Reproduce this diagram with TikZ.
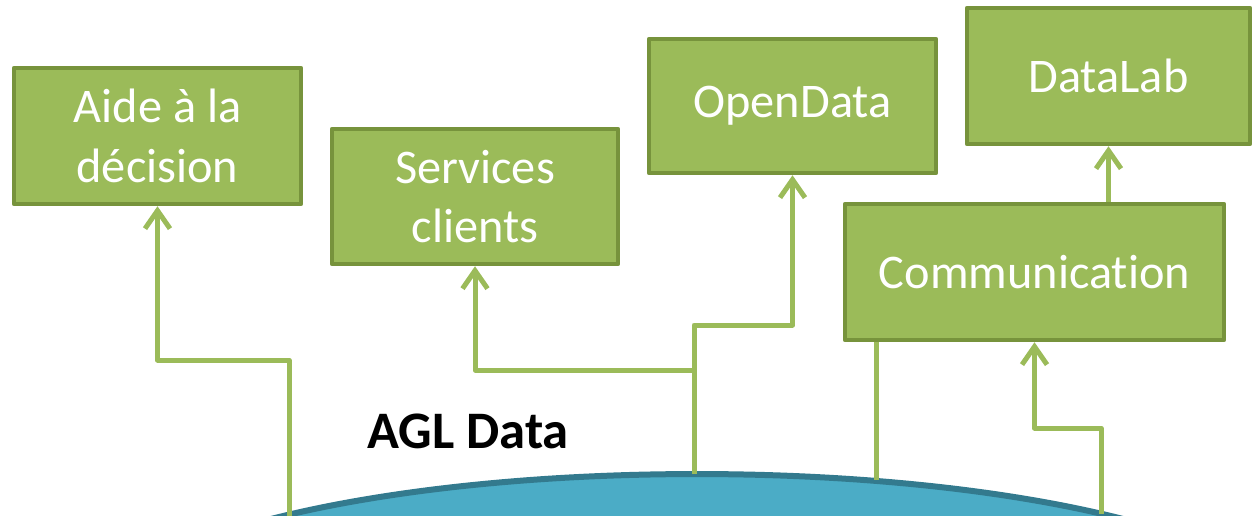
\documentclass[tikz,border=0pt]{standalone}
\usepackage{fontspec}
\setmainfont{Carlito}[Ligatures=NoCommon]
\usetikzlibrary{arrows.meta}
\definecolor{boxfill}{HTML}{9BBB59}
\definecolor{boxline}{HTML}{77933C}
\definecolor{linkgreen}{HTML}{9BBB59}
\definecolor{basefill}{HTML}{4BACC6}
\definecolor{baseline}{HTML}{337A8E}

\begin{document}
\begin{tikzpicture}[x=0.02cm, y=-0.02cm, line join=round, >={Straight Barb[length=0.36cm,width=0.5cm]}]
\tikzset{box/.style={draw=boxline, fill=boxfill, line width=0.09cm, text=white, align=center, inner sep=0pt, font=\fontsize{27.5}{34}\selectfont},
  link/.style={->, draw=linkgreen, line width=0.1cm},
  wire/.style={draw=linkgreen, line width=0.1cm}}
\useasboundingbox (0,0) rectangle (1253,515);
\clip (0,0) rectangle (1253,515);

% data store
\draw[fill=basefill, draw=baseline, line width=0.12cm] (697,626) ellipse [x radius=12cm, y radius=3.04cm];
\node[anchor=base, font=\fontsize{30}{36}\selectfont\bfseries] (agl) at (468,448) {AGL Data};

% points on the store
\coordinate (E1) at (289,516);
\coordinate (E2) at (694,474);
\coordinate (E3) at (876,480);
\coordinate (E4) at (1101,514);
\coordinate (J1) at (694,370);

% boxes
\node[box, minimum width=5.74cm, minimum height=2.72cm] (aide) at (157.5,136) {Aide à la\\décision};
\node[box, minimum width=5.72cm, minimum height=2.70cm] (services) at (475,196.5) {Services\\clients};
\node[box, minimum width=5.74cm, minimum height=2.68cm] (opendata) at (792.5,106) {OpenData};
\node[box, minimum width=5.66cm, minimum height=2.72cm] (datalab) at (1108.5,76) {DataLab};
\node[box, minimum width=7.58cm, minimum height=2.72cm] (comm) at (1034.5,272) {Communication};

% links
\draw[link] (E1) -- (E1 |- 0,360) -| (aide.south);
\draw[link] (E2) -- (E2 |- 0,325) -| (opendata.south);
\draw[link] (J1) -| (services.south);
\draw[wire] (comm.south -| E3) -- (E3);
\draw[link] (E4) -- (E4 |- 0,428) -| (comm.south);
\draw[link] (comm.north -| datalab.south) -- (datalab.south);
\end{tikzpicture}
\end{document}
